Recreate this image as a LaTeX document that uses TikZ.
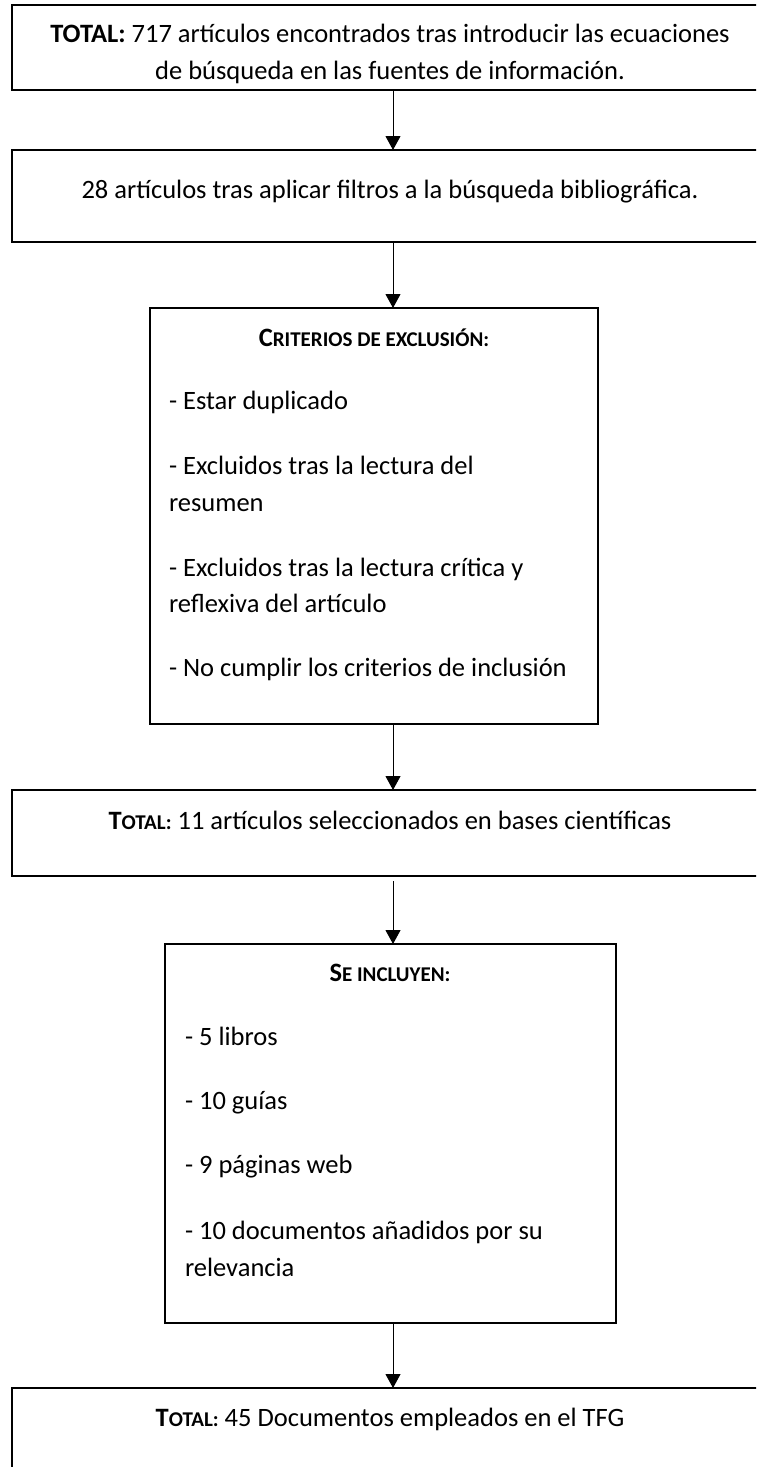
\documentclass[tikz,border=0pt]{standalone}
\usepackage{fontspec}
\setmainfont{Carlito}
\usetikzlibrary{arrows.meta}
\newcommand\fakesc[2]{#1{\fontsize{21pt}{21pt}\selectfont #2}}
\begin{document}
\begin{tikzpicture}[x=1pt,y=-1pt,
  boxst/.style={draw=black, line width=1.8pt, inner sep=0pt, outer sep=0pt, anchor=north west},
  txt/.style={inner sep=0pt, outer sep=0pt, font=\fontsize{26.5pt}{37pt}\selectfont, text=black},
  arr/.style={-{Triangle[width=15pt,length=14pt]}, line width=1pt, draw=black}]
\useasboundingbox (0,0) rectangle (756,1467);
\fill[white] (0,0) rectangle (756,1467);
\clip (0,0) rectangle (756,1467);
\coordinate (ax) at (393,0);
% boxes
\node[boxst, minimum width=760pt, minimum height=85pt] (b1) at (12,5) {};
\node[boxst, minimum width=760pt, minimum height=92pt] (b2) at (12,150) {};
\node[boxst, minimum width=448pt, minimum height=416pt] (b3) at (150,308) {};
\node[boxst, minimum width=760pt, minimum height=86pt] (b4) at (12,790) {};
\node[boxst, minimum width=451pt, minimum height=379pt] (b5) at (165,944) {};
\node[boxst, minimum width=760pt, minimum height=120pt] (b6) at (12,1388) {};
% texts
\node[txt, anchor=base] (t1a) at (390,42) {\textbf{TOTAL:} 717 artículos encontrados tras introducir las ecuaciones};
\node[txt, anchor=base] (t1b) at (390,79) {de búsqueda en las fuentes de información.};
\node[txt, anchor=base] (t2) at (390,198) {28 artículos tras aplicar filtros a la búsqueda bibliográfica.};
\node[txt, anchor=base] (t3h) at (374,346) {\bfseries\fakesc{C}{RITERIOS DE EXCLUSIÓN:}};
\node[txt, anchor=base west] (t3a) at (169,409) {- Estar duplicado};
\node[txt, anchor=base west] (t3b) at (169,474) {- Excluidos tras la lectura del};
\node[txt, anchor=base west] (t3c) at (169,511) {resumen};
\node[txt, anchor=base west] (t3d) at (169,576) {- Excluidos tras la lectura crítica y};
\node[txt, anchor=base west] (t3e) at (169,612) {reflexiva del artículo};
\node[txt, anchor=base west] (t3f) at (169,676) {- No cumplir los criterios de inclusión};
\node[txt, anchor=base] (t4) at (390,829) {\textbf{\fakesc{T}{OTAL:}} 11 artículos seleccionados en bases científicas};
\node[txt, anchor=base] (t5h) at (390,981) {\bfseries\fakesc{S}{E INCLUYEN:}};
\node[txt, anchor=base west] (t5a) at (185,1045) {- 5 libros};
\node[txt, anchor=base west] (t5b) at (185,1109) {- 10 guías};
\node[txt, anchor=base west] (t5c) at (185,1173) {- 9 páginas web};
\node[txt, anchor=base west] (t5d) at (185,1239) {- 10 documentos añadidos por su};
\node[txt, anchor=base west] (t5e) at (185,1276) {relevancia};
\node[txt, anchor=base] (t6) at (390,1426) {\textbf{\fakesc{T}{OTAL:}} 45 Documentos empleados en el TFG};
% arrows
\draw[arr] (b1.south -| ax) -- (b2.north -| ax);
\draw[arr] (b2.south -| ax) -- (b3.north -| ax);
\draw[arr] (b3.south -| ax) -- (b4.north -| ax);
\draw[arr, shorten <=5pt] (b4.south -| ax) -- (b5.north -| ax);
\draw[arr] (b5.south -| ax) -- (b6.north -| ax);
\end{tikzpicture}
\end{document}
